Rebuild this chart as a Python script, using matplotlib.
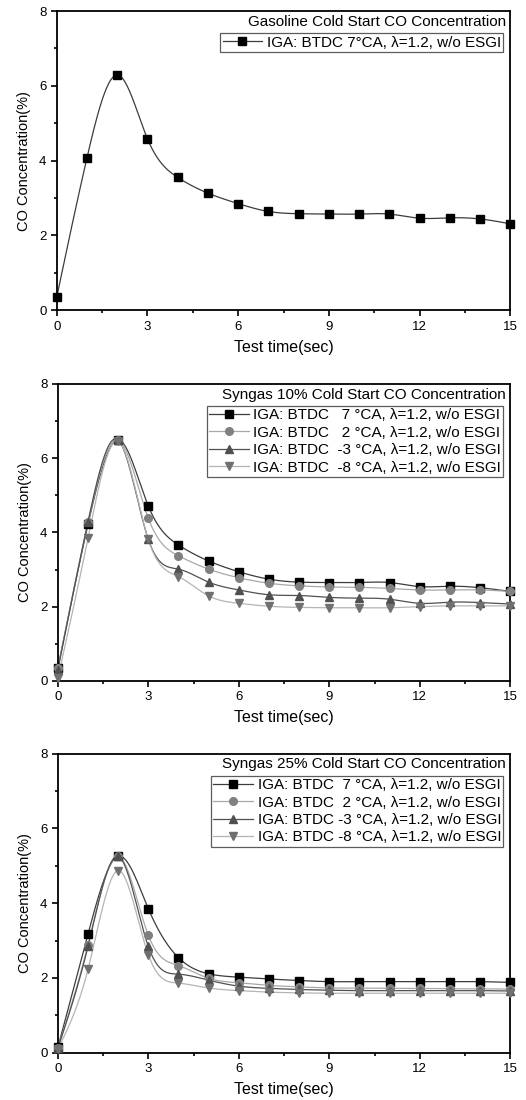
import numpy as np
import matplotlib.pyplot as plt
from matplotlib.lines import Line2D
from matplotlib.ticker import MultipleLocator

plt.rcParams['font.family'] = ['Liberation Sans', 'DejaVu Sans']

# tempo de ensaio (s)
t = list(range(16))

# gasolina
gas_7 = [0.36, 4.08, 6.29, 4.58, 3.55, 3.13, 2.85, 2.64, 2.58, 2.57, 2.57, 2.57, 2.46, 2.47, 2.44, 2.31]

# syngas 10%
s10_7 = [0.35, 4.22, 6.49, 4.71, 3.66, 3.23, 2.94, 2.74, 2.66, 2.65, 2.65, 2.65, 2.54, 2.55, 2.51, 2.41]
s10_2 = [0.34, 4.27, 6.49, 4.38, 3.37, 3.01, 2.78, 2.63, 2.56, 2.53, 2.52, 2.49, 2.45, 2.45, 2.45, 2.41]
s10_m3 = [0.30, 4.29, 6.49, 3.81, 3.01, 2.66, 2.45, 2.32, 2.30, 2.25, 2.23, 2.20, 2.09, 2.12, 2.11, 2.07]
s10_m8 = [0.07, 3.84, 6.46, 3.81, 2.81, 2.29, 2.09, 2.01, 1.98, 1.97, 1.97, 1.97, 2.00, 2.02, 2.02, 2.02]

# syngas 25%
s25_7 = [0.14, 3.17, 5.25, 3.85, 2.54, 2.11, 2.02, 1.97, 1.93, 1.90, 1.90, 1.90, 1.90, 1.90, 1.90, 1.88]
s25_2 = [0.12, 2.89, 5.25, 3.14, 2.33, 1.99, 1.87, 1.80, 1.76, 1.73, 1.73, 1.72, 1.72, 1.71, 1.71, 1.70]
s25_m3 = [0.12, 2.84, 5.25, 2.84, 2.10, 1.94, 1.78, 1.72, 1.69, 1.67, 1.66, 1.66, 1.66, 1.66, 1.66, 1.65]
s25_m8 = [0.10, 2.23, 4.87, 2.62, 1.86, 1.73, 1.66, 1.62, 1.60, 1.59, 1.59, 1.59, 1.59, 1.59, 1.59, 1.59]

labels_10 = ['IGA: BTDC   7 \u00b0CA, \u03bb=1.2, w/o ESGI',
             'IGA: BTDC   2 \u00b0CA, \u03bb=1.2, w/o ESGI',
             'IGA: BTDC  -3 \u00b0CA, \u03bb=1.2, w/o ESGI',
             'IGA: BTDC  -8 \u00b0CA, \u03bb=1.2, w/o ESGI']
labels_25 = ['IGA: BTDC  7 \u00b0CA, \u03bb=1.2, w/o ESGI',
             'IGA: BTDC  2 \u00b0CA, \u03bb=1.2, w/o ESGI',
             'IGA: BTDC -3 \u00b0CA, \u03bb=1.2, w/o ESGI',
             'IGA: BTDC -8 \u00b0CA, \u03bb=1.2, w/o ESGI']

# estilo de cada serie: marcador, cor do marcador, cor da linha
styles = [('s', '#000000', '#3c3c3c'),
          ('o', '#808080', '#a8a8a8'),
          ('^', '#505050', '#505050'),
          ('v', '#707070', '#b4b4b4')]


def spline(x, y, n=400):
    # spline cubica natural so para desenhar a curva suave
    x = np.asarray(x, float); y = np.asarray(y, float)
    h = np.diff(x)
    m = len(x)
    A = np.zeros((m, m)); b = np.zeros(m)
    A[0, 0] = 1; A[-1, -1] = 1
    for i in range(1, m - 1):
        A[i, i - 1] = h[i - 1]
        A[i, i] = 2 * (h[i - 1] + h[i])
        A[i, i + 1] = h[i]
        b[i] = 3 * ((y[i + 1] - y[i]) / h[i] - (y[i] - y[i - 1]) / h[i - 1])
    c = np.linalg.solve(A, b)
    xs = np.linspace(x[0], x[-1], n)
    idx = np.clip(np.searchsorted(x, xs) - 1, 0, m - 2)
    dx = xs - x[idx]
    bb = (y[idx + 1] - y[idx]) / h[idx] - h[idx] * (2 * c[idx] + c[idx + 1]) / 3
    d = (c[idx + 1] - c[idx]) / (3 * h[idx])
    ys = y[idx] + bb * dx + c[idx] * dx ** 2 + d * dx ** 3
    return xs, ys


fig = plt.figure(figsize=(5.26, 11.0), dpi=100)
positions = [[0.108, 0.718, 0.862, 0.272],
             [0.110, 0.381, 0.860, 0.270],
             [0.110, 0.043, 0.860, 0.272]]

panels = [
    ('Gasoline Cold Start CO Concentration', [gas_7], ['IGA: BTDC 7\u00b0CA, \u03bb=1.2, w/o ESGI']),
    ('Syngas 10% Cold Start CO Concentration', [s10_7, s10_2, s10_m3, s10_m8], labels_10),
    ('Syngas 25% Cold Start CO Concentration', [s25_7, s25_2, s25_m3, s25_m8], labels_25),
]

for pos, (title, series, labels) in zip(positions, panels):
    ax = fig.add_axes(pos)
    handles = []
    for k, (y, lab) in enumerate(zip(series, labels)):
        mk, mc, lc = styles[k]
        xs, ys = spline(t, y)
        ax.plot(xs, ys, color=lc, lw=0.9, zorder=2)
        ax.plot(t, y, linestyle='none', marker=mk, ms=5.5, mfc=mc, mec=mc, zorder=3, clip_on=False)
        handles.append(Line2D([], [], color=lc, lw=0.9, marker=mk, ms=5.5, mfc=mc, mec=mc))

    ax.set_xlim(0, 15)
    ax.set_ylim(0, 8)
    ax.xaxis.set_major_locator(MultipleLocator(3))
    ax.xaxis.set_minor_locator(MultipleLocator(1.5))
    ax.yaxis.set_major_locator(MultipleLocator(2))
    ax.yaxis.set_minor_locator(MultipleLocator(1))
    ax.tick_params(which='both', direction='out', labelsize=9.5, width=1.2)
    ax.tick_params(which='major', length=4)
    ax.tick_params(which='minor', length=2.5)
    for sp in ax.spines.values():
        sp.set_linewidth(1.3)

    ax.set_xlabel('Test time(sec)', fontsize=11.5, labelpad=5)
    ax.set_ylabel('CO Concentration(%)', fontsize=10.5, labelpad=6)

    ax.text(0.991, 0.987, title, transform=ax.transAxes, ha='right', va='top', fontsize=11)
    leg = ax.legend(handles, labels, loc='upper right', bbox_to_anchor=(0.985, 0.925),
                    fontsize=11, frameon=True, fancybox=False, handlelength=2.6,
                    handletextpad=0.3, borderpad=0.15, labelspacing=0.22, borderaxespad=0.0)
    leg.get_frame().set_edgecolor('#333333')
    leg.get_frame().set_linewidth(0.9)

fig.savefig('out.png', dpi=100)
